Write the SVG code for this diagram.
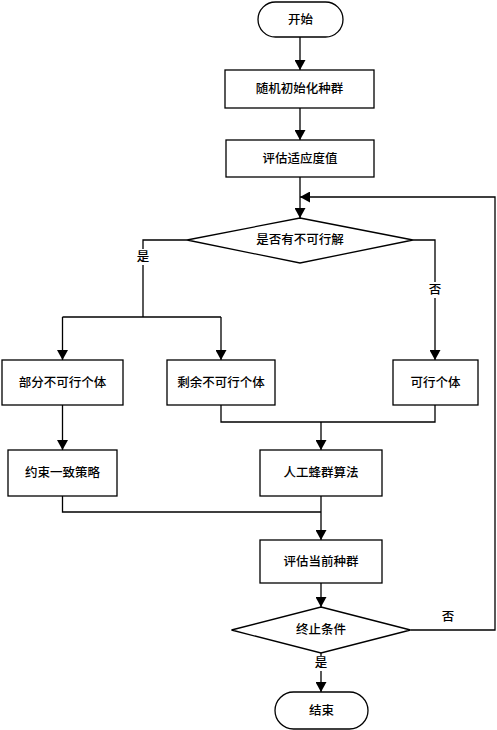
<svg xmlns="http://www.w3.org/2000/svg" width="497" height="730" viewBox="0 0 497 730">
<style>
.shape{fill:#fff;stroke:#000;stroke-width:1.3}
.ln{fill:none;stroke:#000;stroke-width:1.3}
.t{font-family:"Liberation Serif","Noto Sans CJK SC",serif;font-size:12.5px;font-weight:500;fill:#000;text-anchor:middle;dominant-baseline:central}
.bg{fill:#fff;stroke:none}
</style>
<defs>
<marker id="arr" markerUnits="userSpaceOnUse" markerWidth="11" markerHeight="11" refX="10" refY="5.5" orient="auto" viewBox="0 0 11 11">
<path d="M0,0 L10,5.5 L0,11 z" fill="#000"/>
</marker>
</defs>
<rect width="497" height="730" fill="#fff"/>
<g id="connectors">
<line class="ln" x1="300" y1="37" x2="300" y2="70" marker-end="url(#arr)"/>
<line class="ln" x1="300" y1="108" x2="300" y2="140" marker-end="url(#arr)"/>
<line class="ln" x1="300" y1="177" x2="300" y2="218" marker-end="url(#arr)"/>
<polyline class="ln" points="187,240 143,240 143,317"/>
<line class="ln" x1="62.5" y1="317" x2="221" y2="317"/>
<line class="ln" x1="62.5" y1="317" x2="62.5" y2="360" marker-end="url(#arr)"/>
<line class="ln" x1="221" y1="317" x2="221" y2="360" marker-end="url(#arr)"/>
<polyline class="ln" points="413,240 435,240 435,360" marker-end="url(#arr)"/>
<polyline class="ln" points="221,405 221,422 435,422 435,405"/>
<line class="ln" x1="321" y1="422" x2="321" y2="450" marker-end="url(#arr)"/>
<line class="ln" x1="62.5" y1="405" x2="62.5" y2="450" marker-end="url(#arr)"/>
<polyline class="ln" points="62.5,496 62.5,512 321,512"/>
<line class="ln" x1="321" y1="496" x2="321" y2="540" marker-end="url(#arr)"/>
<line class="ln" x1="321" y1="583" x2="321" y2="607" marker-end="url(#arr)"/>
<polyline class="ln" points="410.5,630 495,630 495,197 300,197" marker-end="url(#arr)"/>
<line class="ln" x1="321" y1="653" x2="321" y2="692" marker-end="url(#arr)"/>
<rect class="bg" x="136" y="249" width="14" height="16"/>
<text class="t" x="143" y="257">是</text>
<rect class="bg" x="428" y="282" width="14" height="16"/>
<text class="t" x="435" y="290">否</text>
<text class="t" x="448" y="617">否</text>
<rect class="bg" x="314" y="656" width="14" height="15"/>
<text class="t" x="321" y="663">是</text>
</g>
<g id="start">
<rect class="shape" x="258" y="2" width="85" height="35" rx="17.5"/>
<text class="t" x="300.5" y="20">开始</text>
</g>
<g id="init">
<rect class="shape" x="225" y="70" width="149" height="38"/>
<text class="t" x="299.5" y="89">随机初始化种群</text>
</g>
<g id="eval">
<rect class="shape" x="226" y="140" width="148" height="37"/>
<text class="t" x="300" y="158.5">评估适应度值</text>
</g>
<g id="check">
<polygon class="shape" points="300,218 413,240 300,263 187,240"/>
<text class="t" x="300" y="240">是否有不可行解</text>
</g>
<g id="partial">
<rect class="shape" x="2" y="360" width="121" height="45"/>
<text class="t" x="62.5" y="382.5">部分不可行个体</text>
</g>
<g id="remaining">
<rect class="shape" x="167" y="360" width="108" height="45"/>
<text class="t" x="221" y="382.5">剩余不可行个体</text>
</g>
<g id="feasible">
<rect class="shape" x="393" y="360" width="85" height="45"/>
<text class="t" x="435.5" y="382.5">可行个体</text>
</g>
<g id="constraint">
<rect class="shape" x="8" y="450" width="109" height="46"/>
<text class="t" x="62.5" y="473">约束一致策略</text>
</g>
<g id="abc">
<rect class="shape" x="260" y="450" width="122" height="46"/>
<text class="t" x="321" y="473">人工蜂群算法</text>
</g>
<g id="evalcur">
<rect class="shape" x="260" y="540" width="122" height="43"/>
<text class="t" x="321" y="561.5">评估当前种群</text>
</g>
<g id="stopcond">
<polygon class="shape" points="321,607 410.5,630 321,653 231.5,630"/>
<text class="t" x="321" y="630">终止条件</text>
</g>
<g id="end">
<rect class="shape" x="275" y="692" width="93" height="37" rx="18.5"/>
<text class="t" x="321.5" y="710.5">结束</text>
</g>
</svg>
